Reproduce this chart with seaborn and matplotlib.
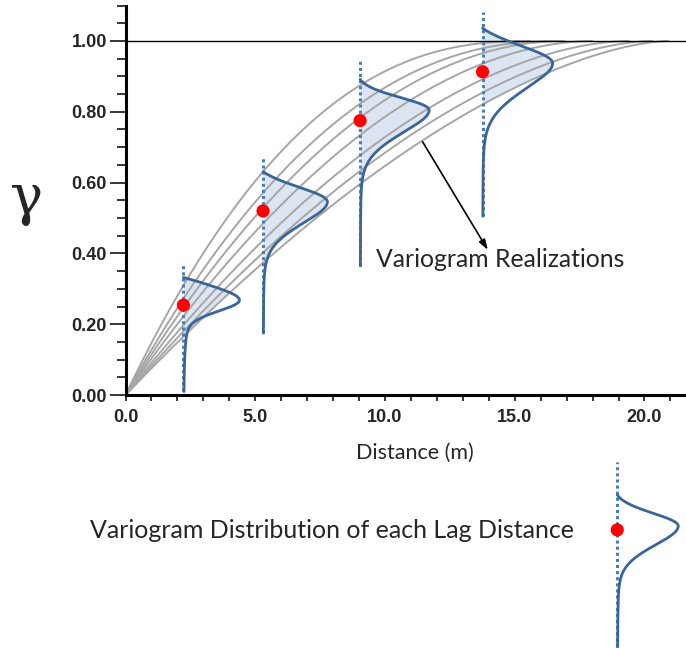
import numpy as np
import pandas as pd
import matplotlib
matplotlib.use("Agg")
import matplotlib.pyplot as plt
import seaborn as sns
from matplotlib.patches import Polygon
from matplotlib.ticker import MultipleLocator, FormatStrFormatter

# ---- variogram realizations (range, curvature) ----
real_range = [15.6, 16.6, 16.9, 18.0, 19.4, 20.3, 20.9]
real_shape = [2.4, 2.2, 2.0, 1.9, 1.8, 1.7, 1.6]

# ---- distribution of gamma at each lag ----
lag_dist = [2.23, 5.30, 9.04, 13.76]
lag_mean = [0.254, 0.520, 0.775, 0.913]
lag_mode = [0.268, 0.546, 0.805, 0.937]
lag_top = [0.332, 0.631, 0.892, 1.036]
lag_bottom = [0.010, 0.175, 0.365, 0.505]
lag_stem_top = [0.366, 0.673, 0.944, 1.083]
lag_spread_up = [0.035, 0.038, 0.034, 0.045]
lag_spread_low = [0.030, 0.066, 0.070, 0.080]
lag_peak = [2.16, 2.48, 2.66, 2.70]

# ---- key distribution drawn under the plot ----
key_dist = 18.95
key_mean = -0.381
key_mode = -0.370
key_top = -0.282
key_bottom = -0.711
key_stem_top = -0.188
key_spread_up = 0.035
key_spread_low = 0.057
key_peak = 2.35

GRAY = "#a6a6a6"
FILL = "#dce6f2"
CURVE = "#3a6597"
STEM = "#4a7ebb"


def variogram(h, a, p):
    return 1.0 - (1.0 - np.clip(h / a, 0, 1)) ** p


def lag_density(g, mode, top, s_up, s_low):
    d = g - mode
    r = np.clip(d / (top - mode), 0, 1)
    upper = np.exp(-0.5 * (d / s_up) ** 2) * (1 - r ** 8)
    lower = 0.8 * np.exp(-0.5 * (d / s_low) ** 2) + 0.2 / (1 + (d / 0.06) ** 2)
    return np.where(d >= 0, upper, lower)


sns.set_style("ticks")
plt.rcParams["font.family"] = ["Liberation Sans", "DejaVu Sans"]

fig = plt.figure(figsize=(6.86, 6.48), dpi=100)
ax = fig.add_axes([0.183, 0.3904, 0.817, 0.601])

# realizations table
rows = []
for i, (a, p) in enumerate(zip(real_range, real_shape)):
    h = np.linspace(0, a, 400)
    rows.append(pd.DataFrame({"h": h, "gamma": variogram(h, a, p), "realization": i}))
curves = pd.concat(rows, ignore_index=True)

# region above the lowest realization, used to clip the shaded densities
hh = np.linspace(0, 30, 600)
low = variogram(hh, real_range[-1], real_shape[-1])
verts = list(zip(hh, low)) + [(30, 3), (0, 3)]
clip_poly = Polygon(verts, closed=True, transform=ax.transData)

for x0, m, t, b, st, su, sl, pk in zip(lag_dist, lag_mode, lag_top, lag_bottom,
                                        lag_stem_top, lag_spread_up, lag_spread_low, lag_peak):
    g = np.linspace(b, t, 800)
    xs = x0 + pk * lag_density(g, m, t, su, sl)
    shade = ax.fill_betweenx(g, x0, xs, color=FILL, lw=0, zorder=1)
    shade.set_clip_path(clip_poly)

sns.lineplot(data=curves, x="h", y="gamma", units="realization", estimator=None,
             sort=False, color=GRAY, lw=1.4, ax=ax, legend=False, zorder=2)

ax.axhline(1.0, color="black", lw=1.0, zorder=2)

for x0, m, t, b, st, su, sl, pk in zip(lag_dist, lag_mode, lag_top, lag_bottom,
                                        lag_stem_top, lag_spread_up, lag_spread_low, lag_peak):
    g = np.linspace(b, t, 800)
    xs = x0 + pk * lag_density(g, m, t, su, sl)
    ax.plot([x0, x0], [b, st], ls=(0, (1, 1)), lw=2.2, color=STEM, zorder=3)
    ax.plot(xs, g, color=CURVE, lw=2.0, zorder=4, solid_capstyle="round")

sns.scatterplot(x=lag_dist, y=lag_mean, color="#ff0000", s=90, edgecolor="none",
                ax=ax, zorder=5, legend=False)

# key below the axes
g = np.linspace(key_bottom, key_top, 800)
xs = key_dist + key_peak * lag_density(g, key_mode, key_top, key_spread_up, key_spread_low)
ax.plot([key_dist, key_dist], [key_bottom, key_stem_top], ls=(0, (1, 1)), lw=2.2,
        color=STEM, zorder=3, clip_on=False)
ax.plot(xs, g, color=CURVE, lw=2.0, zorder=4, clip_on=False, solid_capstyle="round")
ax.scatter([key_dist], [key_mean], color="#ff0000", s=90, edgecolor="none", zorder=5,
           clip_on=False)

# arrow to the realizations
ax.annotate("", xy=(13.96, 0.41), xytext=(11.45, 0.715),
            arrowprops=dict(arrowstyle="-|>,head_length=0.6,head_width=0.2",
                            color="black", lw=1.2, shrinkA=0, shrinkB=0))

# axes styling
ax.set_xlim(0, 21.6)
ax.set_ylim(0, 1.1)
ax.xaxis.set_major_locator(MultipleLocator(5))
ax.xaxis.set_minor_locator(MultipleLocator(1))
ax.yaxis.set_major_locator(MultipleLocator(0.2))
ax.yaxis.set_minor_locator(MultipleLocator(0.05))
ax.xaxis.set_major_formatter(FormatStrFormatter("%.1f"))
ax.yaxis.set_major_formatter(FormatStrFormatter("%.2f"))
ax.set_xlabel("")
ax.set_ylabel("")
for s in ["top", "right"]:
    ax.spines[s].set_visible(False)
for s in ["left", "bottom"]:
    ax.spines[s].set_linewidth(2.2)
    ax.spines[s].set_color("black")
ax.tick_params(axis="y", which="major", length=11.5, width=1.1, pad=2, color="black")
ax.tick_params(axis="y", which="minor", length=6.5, width=1.1, color="black")
ax.tick_params(axis="x", which="both", length=4, width=1.1, pad=6, color="black")
for lab in ax.get_xticklabels() + ax.get_yticklabels():
    lab.set_fontweight("bold")
    lab.set_fontsize(13)

fig.text(0.038, 0.670, "γ", fontsize=40, family="DejaVu Serif", ha="center", va="baseline")
fig.text(0.605, 0.292, "Distance (m)", fontsize=15.5, family="Lato", ha="center", va="baseline")
fig.text(0.548, 0.588, "Variogram Realizations", fontsize=17.8, family="Lato",
         ha="left", va="baseline")
fig.text(0.131, 0.170, "Variogram Distribution of each Lag Distance", fontsize=18,
         family="Lato", ha="left", va="baseline")

fig.savefig("out.png", dpi=100)
